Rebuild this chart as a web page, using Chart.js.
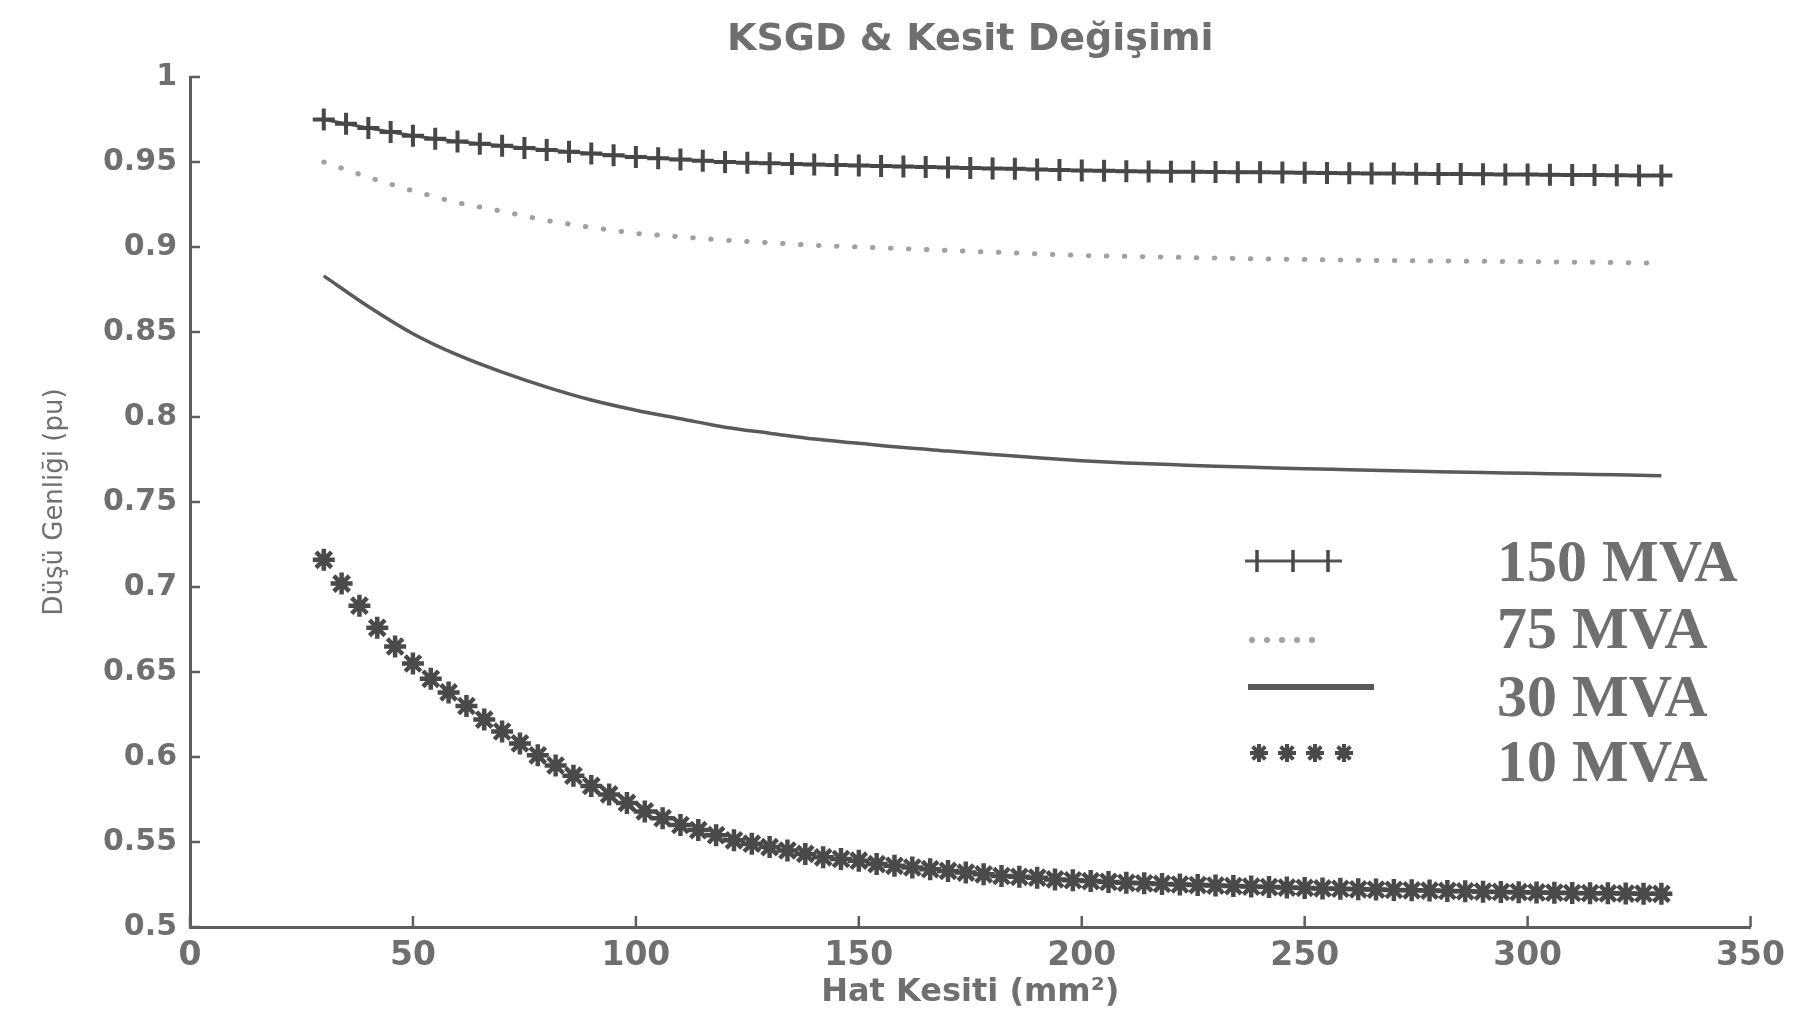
<!DOCTYPE html>
<html><head><meta charset="utf-8">
<script src="https://cdn.jsdelivr.net/npm/chart.js@4.4.1/dist/chart.umd.min.js"></script>
<style>html,body{margin:0;padding:0;background:#fff}canvas{display:block}</style>
</head><body>
<canvas id="c" width="1795" height="1028"></canvas>
<script>
const chartTitle = 'KSGD & Kesit Değişimi';
const xAxisTitle = 'Hat Kesiti (mm²)';
const yAxisTitle = 'Düşü Genliği (pu)';
const seriesLabels = ['150 MVA', '75 MVA', '30 MVA', '10 MVA'];
const xTickValues = [0, 50, 100, 150, 200, 250, 300, 350];
const xTickLabels = ['0', '50', '100', '150', '200', '250', '300', '350'];
const yTickValues = [0.5, 0.55, 0.6, 0.65, 0.7, 0.75, 0.8, 0.85, 0.9, 0.95, 1];
const yTickLabels = ['0.5', '0.55', '0.6', '0.65', '0.7', '0.75', '0.8', '0.85', '0.9', '0.95', '1'];

const x150 = [30,35,40,45,50,55,60,65,70,75,80,85,90,95,100,105,110,115,120,125,130,135,140,145,150,155,160,165,170,175,180,185,190,195,200,205,210,215,220,225,230,235,240,245,250,255,260,265,270,275,280,285,290,295,300,305,310,315,320,325,330];
const y150 = [0.975,0.9725,0.970,0.9677,0.9655,0.9637,0.962,0.9607,0.9595,0.9582,0.957,0.956,0.955,0.954,0.953,0.9522,0.9515,0.9508,0.950,0.9496,0.9492,0.9488,0.9485,0.9482,0.948,0.9477,0.9474,0.9471,0.9468,0.9465,0.9462,0.946,0.9456,0.9453,0.945,0.9448,0.9446,0.9444,0.9443,0.9442,0.9441,0.944,0.9439,0.9438,0.9437,0.9435,0.9434,0.9433,0.9432,0.9431,0.943,0.9429,0.9428,0.9427,0.9426,0.9425,0.9424,0.9423,0.9422,0.9421,0.942];

const x75 = [30,40,50,60,70,80,90,100,110,120,130,140,150,160,170,180,190,200,210,220,230,240,250,260,270,280,290,300,310,320,330];
const y75 = [0.950,0.941,0.933,0.926,0.921,0.9155,0.9115,0.908,0.906,0.904,0.9025,0.901,0.900,0.899,0.898,0.897,0.896,0.895,0.8945,0.894,0.8935,0.893,0.8926,0.8923,0.892,0.8918,0.8916,0.8914,0.8911,0.8908,0.8905];

const x30 = [30,40,50,60,70,80,90,100,110,120,130,140,150,160,170,180,190,200,210,220,230,240,250,260,270,280,290,300,310,320,330];
const y30 = [0.883,0.865,0.849,0.8365,0.8264,0.8176,0.810,0.804,0.799,0.794,0.7905,0.787,0.7845,0.782,0.780,0.778,0.776,0.7743,0.773,0.772,0.771,0.7703,0.7696,0.769,0.7684,0.7678,0.7673,0.7669,0.7664,0.766,0.7655];

const x10 = [30,34,38,42,46,50,54,58,62,66,70,74,78,82,86,90,94,98,102,106,110,114,118,122,126,130,134,138,142,146,150,154,158,162,166,170,174,178,182,186,190,194,198,202,206,210,214,218,222,226,230,234,238,242,246,250,254,258,262,266,270,274,278,282,286,290,294,298,302,306,310,314,318,322,326,330];
const y10 = [0.716,0.702,0.689,0.676,0.665,0.655,0.646,0.638,0.630,0.622,0.615,0.608,0.601,0.595,0.589,0.583,0.578,0.573,0.568,0.564,0.560,0.557,0.554,0.551,0.549,0.547,0.545,0.543,0.541,0.540,0.539,0.537,0.536,0.535,0.534,0.533,0.532,0.531,0.530,0.5295,0.529,0.528,0.5275,0.527,0.5265,0.526,0.5257,0.5253,0.525,0.5247,0.5244,0.5241,0.5238,0.5235,0.5232,0.523,0.5227,0.5225,0.5222,0.522,0.5218,0.5216,0.5214,0.5212,0.521,0.5208,0.5206,0.5205,0.5203,0.5202,0.52,0.5199,0.5198,0.5197,0.5196,0.5195];

const pts = (xs, ys) => xs.map((x, i) => ({x: x, y: ys[i]}));
const TEXT = '#6f6f6f';
const AXIS = '#5e5e5e';

const inwardTicks = {
  id: 'inwardTicks',
  afterDraw(chart) {
    const {ctx, chartArea, scales} = chart;
    ctx.save();
    ctx.strokeStyle = AXIS;
    ctx.lineWidth = 2.5;
    scales.x.ticks.forEach(t => {
      const px = scales.x.getPixelForValue(t.value);
      ctx.beginPath(); ctx.moveTo(px, chartArea.bottom); ctx.lineTo(px, chartArea.bottom - 11); ctx.stroke();
    });
    scales.y.ticks.forEach(t => {
      const py = scales.y.getPixelForValue(t.value);
      ctx.beginPath(); ctx.moveTo(chartArea.left, py); ctx.lineTo(chartArea.left + 10, py); ctx.stroke();
    });
    ctx.restore();
  }
};

function drawStar(ctx, x, y, r) {
  [0, 45, 90, 135].forEach(a => {
    const rad = a * Math.PI / 180;
    const dx = Math.cos(rad) * r, dy = Math.sin(rad) * r;
    ctx.beginPath(); ctx.moveTo(x - dx, y - dy); ctx.lineTo(x + dx, y + dy); ctx.stroke();
  });
}

const sideLegend = {
  id: 'sideLegend',
  afterDraw(chart) {
    const {ctx} = chart;
    const ds = chart.data.datasets;
    const rowsY = [561, 628, 696, 761];
    const textX = 1497;
    ctx.save();
    ctx.fillStyle = TEXT;
    ctx.font = 'bold 60px "Liberation Serif", "Times New Roman", serif';
    ctx.textBaseline = 'middle';
    ctx.textAlign = 'left';
    ds.forEach((d, i) => ctx.fillText(d.label, textX, rowsY[i] + 4));
    // 150 MVA symbol
    ctx.strokeStyle = ds[0].borderColor; ctx.lineWidth = 3;
    ctx.beginPath(); ctx.moveTo(1245, 561); ctx.lineTo(1342, 561); ctx.stroke();
    ctx.strokeStyle = ds[0].pointBorderColor; ctx.lineWidth = 3.5;
    [1257, 1293, 1328].forEach(x => {
      ctx.beginPath(); ctx.moveTo(x, 561 - 11); ctx.lineTo(x, 561 + 11); ctx.stroke();
    });
    // 75 MVA dotted
    ctx.fillStyle = ds[1].borderColor;
    [1252, 1267, 1282, 1297, 1312].forEach(x => {
      ctx.beginPath(); ctx.arc(x, 640, 3, 0, Math.PI * 2); ctx.fill();
    });
    // 30 MVA solid
    ctx.strokeStyle = ds[2].borderColor; ctx.lineWidth = 6;
    ctx.beginPath(); ctx.moveTo(1248, 687); ctx.lineTo(1374, 687); ctx.stroke();
    // 10 MVA stars
    ctx.strokeStyle = ds[3].pointBorderColor; ctx.lineWidth = 4;
    [1259, 1287, 1315, 1344].forEach(x => drawStar(ctx, x, 753, 9));
    ctx.restore();
  }
};

new Chart(document.getElementById('c'), {
  type: 'line',
  data: {
    datasets: [
      {
        label: seriesLabels[0], data: pts(x150, y150),
        borderColor: '#555555', borderWidth: 3,
        pointStyle: 'cross', pointRadius: 11, pointBorderWidth: 4,
        pointBorderColor: '#474747', pointBackgroundColor: '#474747'
      },
      {
        label: seriesLabels[1], data: pts(x75, y75),
        borderColor: '#a0a0a0', borderWidth: 5, borderDash: [0.5, 17.5], borderCapStyle: 'round',
        pointRadius: 0
      },
      {
        label: seriesLabels[2], data: pts(x30, y30),
        borderColor: '#5a5a5a', borderWidth: 3.5, cubicInterpolationMode: 'monotone',
        pointRadius: 0
      },
      {
        label: seriesLabels[3], data: pts(x10, y10),
        showLine: false, borderColor: '#4a4a4a',
        pointStyle: 'star', pointRadius: 11, pointBorderWidth: 4.5,
        pointBorderColor: '#4a4a4a', pointBackgroundColor: '#4a4a4a'
      }
    ]
  },
  options: {
    responsive: false,
    animation: false,
    devicePixelRatio: 1,
    layout: {padding: {left: 0, right: 37, top: 0, bottom: 0}},
    plugins: {
      legend: {display: false},
      tooltip: {enabled: false},
      title: {
        display: true, text: chartTitle, fullSize: false, color: TEXT,
        font: {family: '"DejaVu Sans", sans-serif', size: 38, weight: 'bold', lineHeight: 1.2},
        padding: {top: 17, bottom: 14.4}
      }
    },
    scales: {
      x: {
        type: 'linear', min: 0, max: 350,
        afterBuildTicks: s => { s.ticks = xTickValues.map(v => ({value: v})); },
        afterFit: s => { s.height = 101; },
        ticks: {
          color: TEXT, padding: 10, maxRotation: 0,
          font: {family: '"DejaVu Sans", sans-serif', size: 33, weight: 'bold'},
          callback: v => xTickLabels[xTickValues.indexOf(v)]
        },
        grid: {display: true, drawOnChartArea: false, drawTicks: false},
        border: {display: true, color: AXIS, width: 3},
        title: {
          display: true, text: xAxisTitle, color: TEXT, padding: 16,
          font: {family: '"DejaVu Sans", sans-serif', size: 32, weight: 'bold', lineHeight: 1.2}
        }
      },
      y: {
        type: 'linear', min: 0.5, max: 1,
        afterBuildTicks: s => { s.ticks = yTickValues.map(v => ({value: v})); },
        afterFit: s => { s.width = 190; },
        ticks: {
          color: TEXT, padding: 13,
          font: {family: '"DejaVu Sans", sans-serif', size: 30, weight: 'bold'},
          callback: v => yTickLabels[yTickValues.findIndex(t => Math.abs(t - v) < 1e-9)]
        },
        grid: {display: true, drawOnChartArea: false, drawTicks: false},
        border: {display: true, color: AXIS, width: 3},
        title: {
          display: true, text: yAxisTitle, color: TEXT, padding: 40,
          font: {family: '"DejaVu Sans", sans-serif', size: 26, lineHeight: 1.2}
        }
      }
    }
  },
  plugins: [inwardTicks, sideLegend]
});
</script>
</body></html>
